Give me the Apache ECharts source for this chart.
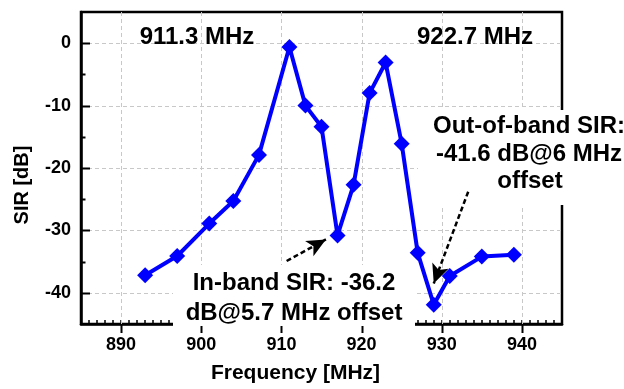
<!DOCTYPE html>
<html>
<head>
<meta charset="utf-8">
<script src="https://cdn.jsdelivr.net/npm/echarts@6/dist/echarts.min.js"></script>
<style>
  html, body { margin: 0; padding: 0; background: #fff; }
  #chart { width: 624px; height: 389px; }
</style>
</head>
<body>
<div id="chart"></div>
<script>
// 频率 (MHz) 与 SIR (dB)
var freqList = [893, 897, 901, 904, 907.2, 911, 913, 915, 917, 919, 921, 923, 925, 927, 929, 931, 935, 939];
var sirList = [-37.2, -34.1, -28.9, -25.3, -17.9, -0.6, -10.0, -13.4, -30.8, -22.7, -8.0, -3.1, -16.1, -33.6, -41.9, -37.3, -34.2, -33.9];

// 主刻度
var xMajorTicks = [890, 900, 910, 920, 930, 940];
var yMajorTicks = [-40, -30, -20, -10, 0];
var yMinorTicks = [-35, -25, -15, -5];

// 箭头 (起点 -> 终点, 数据坐标)
var inBandArrow = [[910.65, -34.9], [915.55, -31.45]];
var outBandArrow = [[933.3, -23.8], [929.0, -38.5]];

var font = '"Liberation Sans", Arial, sans-serif';

var chart = echarts.init(document.getElementById('chart'));

var points = [];
for (var i = 0; i < freqList.length; i++) {
    points.push([freqList[i], sirList[i]]);
}

var option = {
    animation: false,
    backgroundColor: '#fff',
    grid: {
        left: 81, top: 12, right: 62, bottom: 56,
        show: true,
        borderColor: '#000',
        borderWidth: 2.5,
        backgroundColor: 'transparent'
    },
    xAxis: {
        type: 'value',
        min: 885, max: 945, interval: 5,
        name: 'Frequency [MHz]',
        nameLocation: 'middle',
        nameGap: 39,
        nameTextStyle: { fontFamily: font, fontWeight: 'bold', fontSize: 21, color: '#000', padding: [0, 52, 0, 0] },
        axisLine: { show: true, onZero: false, lineStyle: { color: '#000', width: 2.5 } },
        axisTick: { inside: true, length: 4, lineStyle: { color: '#000', width: 1.5 } },
        minorTick: { show: true, splitNumber: 5, length: 4, lineStyle: { color: '#000', width: 1.5 } },
        axisLabel: {
            fontFamily: font, fontWeight: 'bold', fontSize: 18, color: '#000', margin: 12,
            formatter: function (v) { return (v % 10 === 0 && v >= 890 && v <= 940) ? v : ''; }
        },
        splitLine: { show: false }
    },
    yAxis: {
        type: 'value',
        min: -45, max: 5, interval: 5,
        name: 'SIR [dB]',
        nameLocation: 'middle',
        nameGap: 49,
        nameTextStyle: { fontFamily: font, fontWeight: 'bold', fontSize: 20, color: '#000', padding: [0, 34, 0, 0] },
        axisLine: { show: true, onZero: false, lineStyle: { color: '#000', width: 2.5 } },
        axisTick: { show: false },
        axisLabel: {
            fontFamily: font, fontWeight: 'bold', fontSize: 18, color: '#000', margin: 10,
            formatter: function (v) { return (v % 10 === 0) ? v : ''; }
        },
        splitLine: { show: false }
    },
    series: [
        {
            type: 'line',
            data: points,
            symbol: 'diamond',
            symbolSize: 16,
            lineStyle: { color: '#0000ff', width: 4 },
            itemStyle: { color: '#0000ff' },
            z: 5
        },
        {
            type: 'line',
            data: [],
            markLine: {
                silent: true,
                symbol: ['none', 'arrow'],
                symbolSize: [13, 19],
                label: { show: false },
                lineStyle: { color: '#000', width: 2.5, type: [5, 3] },
                data: [
                    [{ coord: inBandArrow[0] }, { coord: inBandArrow[1] }],
                    [{ coord: outBandArrow[0] }, { coord: outBandArrow[1] }]
                ]
            },
            z: 6
        }
    ]
};
chart.setOption(option);

var plotLeft = 81, plotRight = 562, plotTop = 12, plotBottom = 333;
var g = [];
function gridStyle() {
    return { stroke: '#c8c8c8', lineWidth: 1, lineDash: [4, 3] };
}
function tickStyle() {
    return { stroke: '#000', lineWidth: 2 };
}

// 网格线与主刻度
xMajorTicks.forEach(function (v) {
    var x = Math.round(chart.convertToPixel({ xAxisIndex: 0 }, v)) + 0.5;
    g.push({ type: 'line', z: 1, silent: true, shape: { x1: x, y1: plotTop, x2: x, y2: plotBottom }, style: gridStyle() });
    g.push({ type: 'line', z: 3, silent: true, shape: { x1: x, y1: plotBottom, x2: x, y2: plotBottom - 8 }, style: tickStyle() });
});
yMajorTicks.forEach(function (v) {
    var y = Math.round(chart.convertToPixel({ yAxisIndex: 0 }, v)) + 0.5;
    g.push({ type: 'line', z: 1, silent: true, shape: { x1: plotLeft, y1: y, x2: plotRight, y2: y }, style: gridStyle() });
    g.push({ type: 'line', z: 3, silent: true, shape: { x1: plotLeft, y1: y, x2: plotLeft + 9, y2: y }, style: tickStyle() });
});
yMinorTicks.forEach(function (v) {
    var y = Math.round(chart.convertToPixel({ yAxisIndex: 0 }, v)) + 0.5;
    g.push({ type: 'line', z: 3, silent: true, shape: { x1: plotLeft, y1: y, x2: plotLeft + 4.5, y2: y }, style: tickStyle() });
});

// 白底文字框
g.push({ type: 'rect', z: 4, silent: true, shape: { x: 173, y: 265, width: 242, height: 61 }, style: { fill: '#fff' } });
g.push({ type: 'rect', z: 4, silent: true, shape: { x: 418, y: 110, width: 206, height: 95 }, style: { fill: '#fff' } });

function addText(str, cx, baseline) {
    g.push({
        type: 'text', z: 7, silent: true,
        x: cx, y: baseline - 8.3,
        style: {
            text: str, fill: '#000', font: 'bold 24px ' + font,
            align: 'center', verticalAlign: 'middle'
        }
    });
}
addText('911.3 MHz', 197, 46);
addText('922.7 MHz', 475, 46);
addText('In-band SIR: -36.2', 294, 292);
addText('dB@5.7 MHz offset', 294, 322);
addText('Out-of-band SIR:', 529, 135);
addText('-41.6 dB@6 MHz', 529, 163);
addText('offset', 530, 190);

chart.setOption({ graphic: g });
</script>
</body>
</html>
